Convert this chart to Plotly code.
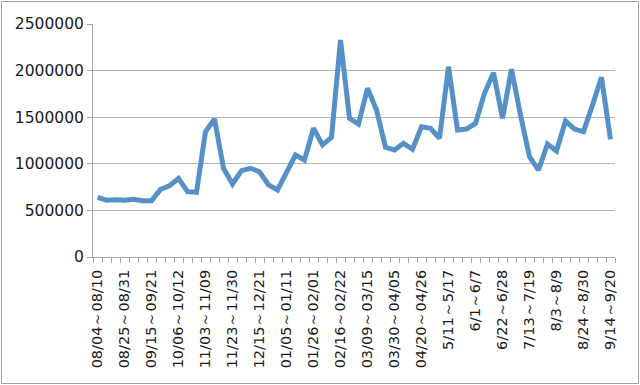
import plotly.graph_objects as go

# Weekly values (58 weeks)
values = [640000, 610000, 615000, 608000, 620000, 604000, 604000, 726000, 765000, 844000,
          701000, 694000, 1345000, 1481000, 952000, 783000, 926000, 952000, 915000, 773000,
          719000, 898000, 1094000, 1041000, 1381000, 1202000, 1284000, 2328000, 1488000, 1427000,
          1810000, 1577000, 1177000, 1148000, 1220000, 1156000, 1398000, 1381000, 1274000, 2042000,
          1363000, 1373000, 1434000, 1756000, 1978000, 1488000, 2014000, 1524000, 1076000, 933000,
          1212000, 1137000, 1459000, 1373000, 1345000, 1631000, 1928000, 1263000]

tick_labels = ["08/04～08/10", "08/25～08/31", "09/15～09/21", "10/06～10/12", "11/03～11/09",
               "11/23～11/30", "12/15～12/21", "01/05～01/11", "01/26～02/01", "02/16～02/22",
               "03/09～03/15", "03/30～04/05", "04/20～04/26", "5/11～5/17", "6/1～6/7",
               "6/22～6/28", "7/13～7/19", "8/3～8/9", "8/24～8/30", "9/14～9/20"]
label_step = 3

x_idx = list(range(len(values)))
tick_pos = x_idx[::label_step]

fig = go.Figure()
fig.add_trace(go.Scatter(x=x_idx, y=values, mode="lines",
                         line=dict(color="#5690C9", width=5), hoverinfo="skip"))

W, H = 640, 385
L, R, T, B = 93, 25, 24, 128
pw, ph = W - L - R, H - T - B

fig.update_layout(
    width=W, height=H,
    margin=dict(l=L, r=R, t=T, b=B, autoexpand=False),
    paper_bgcolor="white", plot_bgcolor="white",
    showlegend=False,
    font=dict(family="DejaVu Sans", size=15.5, color="#1a1a1a"),
    xaxis=dict(
        range=[-0.5, len(values) - 0.5],
        tickvals=tick_pos, ticktext=tick_labels,
        tickangle=-90, automargin=False,
        tickfont=dict(size=14.5),
        ticks="outside", ticklen=6, tickcolor="rgba(0,0,0,0)",
        showgrid=False, zeroline=False,
        showline=True, linecolor="#a6a6a6", linewidth=1,
        minor=dict(tick0=-0.5, dtick=1, ticks="outside", ticklen=5,
                   tickcolor="#a6a6a6", showgrid=False),
    ),
    yaxis=dict(
        range=[0, 2500000], dtick=500000, tickformat="d",
        automargin=False,
        ticks="outside", ticklen=5, tickcolor="#a6a6a6",
        showgrid=True, gridcolor="#b5b5b5", gridwidth=1,
        zeroline=False,
        showline=True, linecolor="#a6a6a6", linewidth=1,
    ),
)

# outer chart-area border (pixel positions converted to paper units)
fig.add_shape(type="rect", xref="paper", yref="paper",
              x0=(1.5 - L) / pw, x1=(W - 1.5 - L) / pw,
              y0=(T + ph - (H - 1.5)) / ph, y1=(T + ph - 1.5) / ph,
              line=dict(color="#a0a0a0", width=1), layer="above")

fig.write_html("out.html", config={"displayModeBar": False},
               post_script="document.body.style.margin='0';document.body.style.overflow='hidden';")
